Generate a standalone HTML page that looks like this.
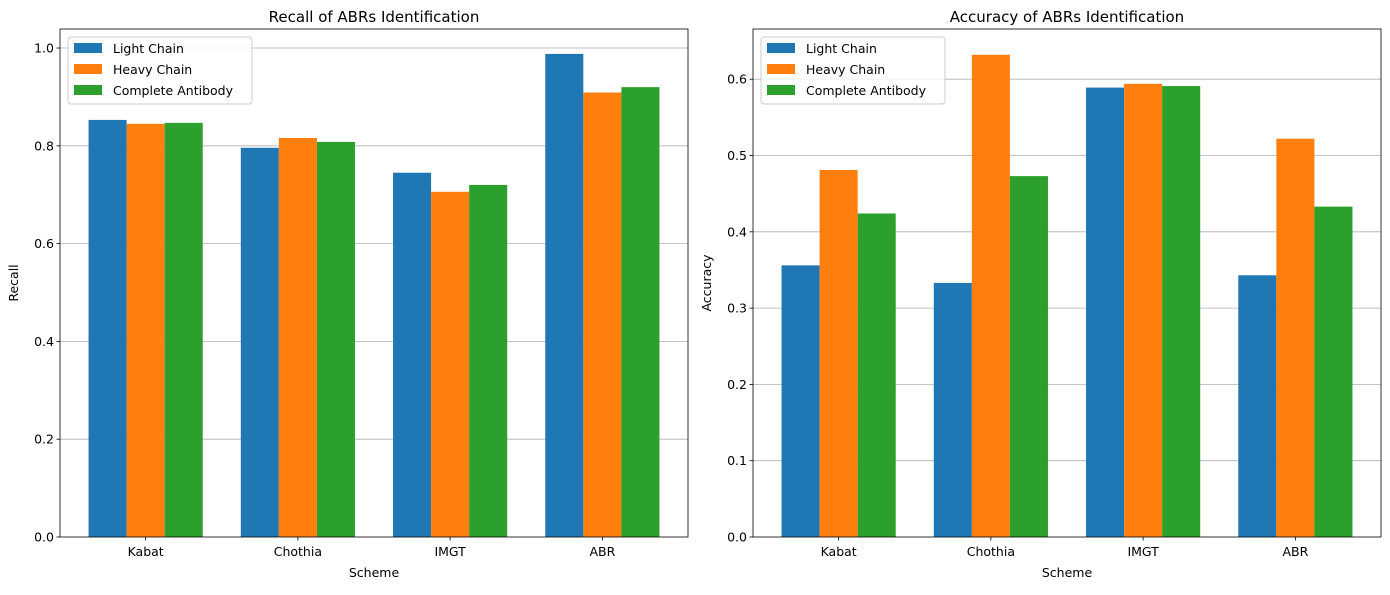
<!DOCTYPE html>
<html><head><meta charset="utf-8"><style>
body{margin:0;background:#fff;font-family:"Liberation Sans","DejaVu Sans",sans-serif}
svg text{font-family:"DejaVu Sans","Liberation Sans",sans-serif;fill:#000}
</style></head><body>
<svg id="c" width="1390" height="590" xmlns="http://www.w3.org/2000/svg"></svg>
<script>
const categories=["Kabat","Chothia","IMGT","ABR"];
const seriesNames=["Light Chain","Heavy Chain","Complete Antibody"];
const recallLight=[0.853,0.796,0.745,0.988];
const recallHeavy=[0.845,0.816,0.706,0.909];
const recallComplete=[0.847,0.808,0.720,0.920];
const accLight=[0.356,0.333,0.589,0.343];
const accHeavy=[0.481,0.632,0.594,0.522];
const accComplete=[0.424,0.473,0.591,0.433];
const recallTicks=[0,0.2,0.4,0.6,0.8,1.0];
const accTicks=[0,0.1,0.2,0.3,0.4,0.5,0.6];
const colors=["#1f77b4","#ff7f0e","#2ca02c"];
const NS="http://www.w3.org/2000/svg";
const svg=document.getElementById('c');
function mk(tag,attrs,parent){const e=document.createElementNS(NS,tag);for(const k in attrs)e.setAttribute(k,attrs[k]);(parent||svg).appendChild(e);return e;}
function panel(prefix,x0,x1,y0,y1,ymax,ticks,series,title,ylabel,dec){
  const g=mk('g',{});
  
  
  const xs=v=>x0+(v+0.5625)/4.125*(x1-x0);
  const ys=v=>y1-v/ymax*(y1-y0);
  ticks.forEach(t=>{
    const y=ys(t);
    if(t>0){const gl=mk('line',{x1:x0,x2:x1,y1:y,y2:y,stroke:'#b0b0b0','stroke-width':0.8},g);
    
    }
    mk('line',{x1:x0-3.5,x2:x0,y1:y,y2:y,stroke:'#000','stroke-width':0.8},g);
    const tl=mk('text',{x:x0-6,y:y+4.5,'text-anchor':'end','font-size':12.5},g);
    tl.textContent=t.toFixed(dec);
    
    
  });
  series.forEach((vals,si)=>{
    vals.forEach((v,ci)=>{
      const a=xs(ci+(si-1)*0.25-0.125), b=xs(ci+(si-1)*0.25+0.125);
      const r=mk('rect',{x:a,y:ys(v),width:b-a,height:ys(0)-ys(v),fill:colors[si]},g);
      
      
    });
  });
  categories.forEach((c,ci)=>{
    const x=xs(ci);
    mk('line',{x1:x,x2:x,y1:y1,y2:y1+3.5,stroke:'#000','stroke-width':0.8},g);
    const t=mk('text',{x:x,y:y1+19,'text-anchor':'middle','font-size':12.5},g);
    t.textContent=c;
    
    
  });
  mk('rect',{x:x0,y:y0,width:x1-x0,height:y1-y0,fill:'none',stroke:'#000','stroke-width':0.8},g);
  const tt=mk('text',{x:(x0+x1)/2,y:y0-7,'text-anchor':'middle','font-size':15},g);tt.textContent=title;
  
  const xl=mk('text',{x:(x0+x1)/2,y:y1+40,'text-anchor':'middle','font-size':12.5},g);xl.textContent='Scheme';
  
  const yx=x0-42,yy=(y0+y1)/2;
  const yl=mk('text',{x:yx,y:yy,'text-anchor':'middle','font-size':12.5,transform:`rotate(-90 ${yx} ${yy})`},g);yl.textContent=ylabel;
  
  const lg=mk('g',{},g);
  
  mk('rect',{x:x0+8,y:y0+8,width:184,height:67,rx:3,fill:'#fff','fill-opacity':0.8,stroke:'#ccc'},lg);
  seriesNames.forEach((n,i)=>{
    const yy2=y0+14+i*21;
    mk('rect',{x:x0+14,y:yy2,width:28,height:10,fill:colors[i]},lg);
    const t=mk('text',{x:x0+53,y:yy2+10,'font-size':12.5},lg);t.textContent=n;
    
  });
}
panel('recall',60,688,29,537,1.0389,recallTicks,[recallLight,recallHeavy,recallComplete],'Recall of ABRs Identification','Recall',1);
panel('accuracy',753,1381,29,537,0.6658,accTicks,[accLight,accHeavy,accComplete],'Accuracy of ABRs Identification','Accuracy',1);
</script>
</body></html>
